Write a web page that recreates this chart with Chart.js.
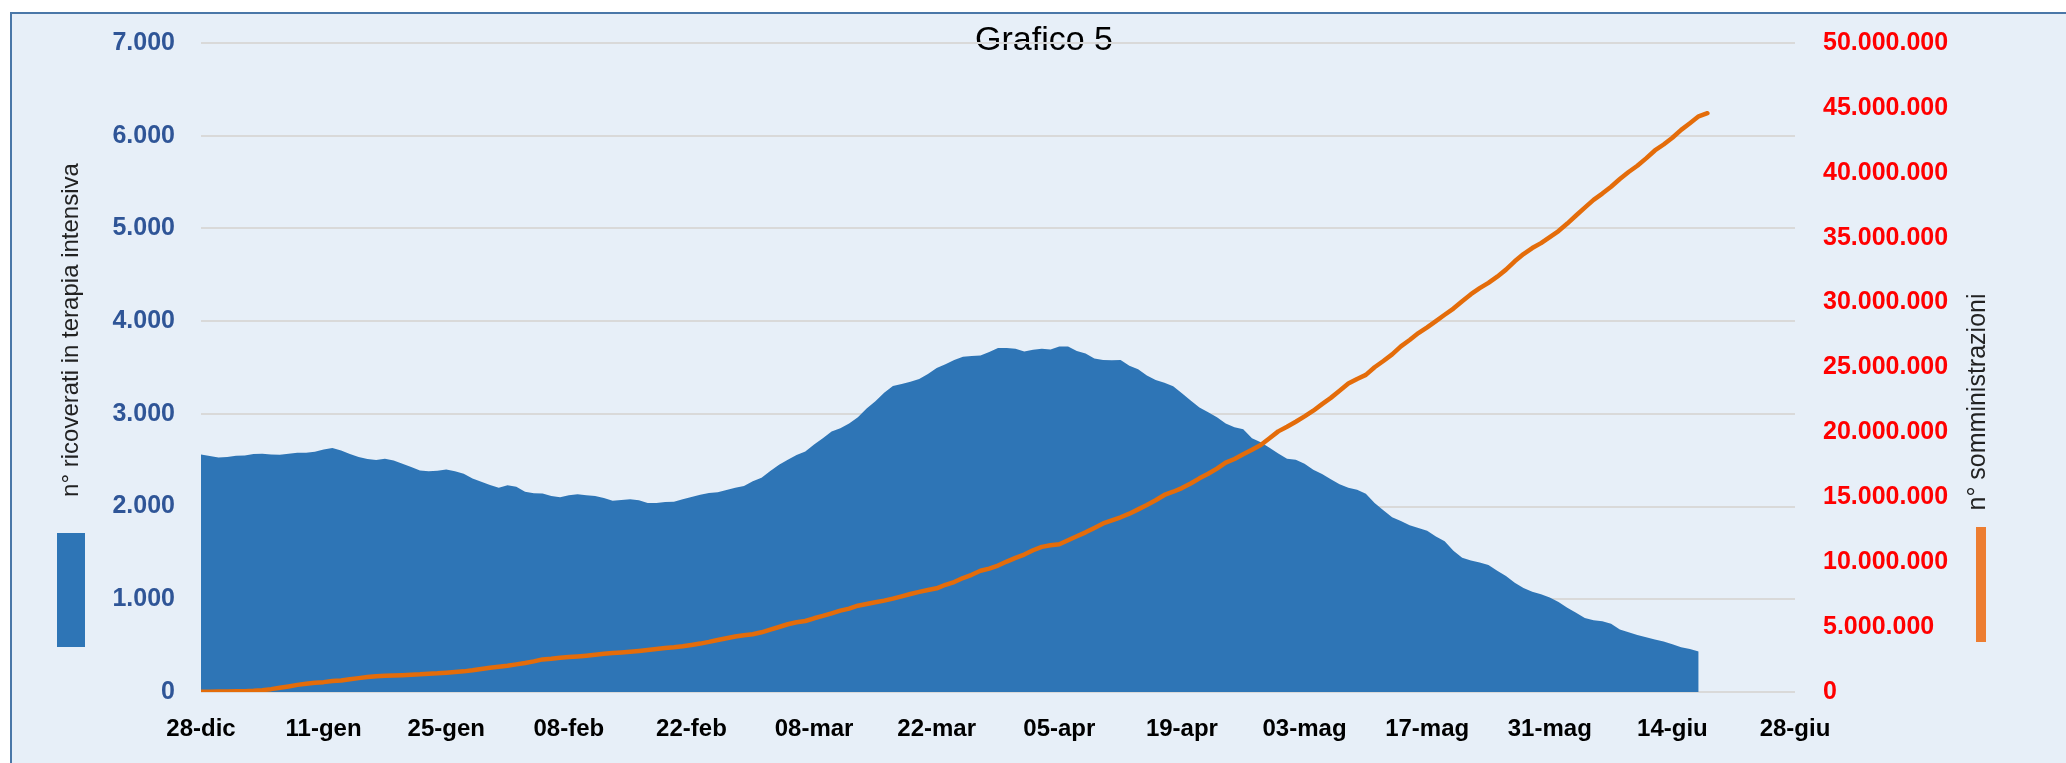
<!DOCTYPE html>
<html>
<head>
<meta charset="utf-8">
<script src="https://cdn.jsdelivr.net/npm/chart.js@4.4.1/dist/chart.umd.min.js"></script>
<style>
  html, body { margin: 0; padding: 0; background: #fff; }
  #wrap { position: relative; width: 2066px; height: 763px; overflow: hidden; }
  #frame {
    position: absolute; left: 10px; top: 12px; right: -10px; bottom: -10px;
    background: #e7eff8; border-left: 2px solid #4a77a8; border-top: 2px solid #4a77a8;
  }
  #chart { position: absolute; left: 0; top: 0; }
</style>
</head>
<body>
<div id="wrap">
  <div id="frame"></div>
  <canvas id="chart" width="2066" height="763"></canvas>
</div>
<script>
// Grafico 5 — terapia intensiva vs somministrazioni (28-dic -> 28-giu, un punto al giorno)

const xTickLabels = ['28-dic', '11-gen', '25-gen', '08-feb', '22-feb', '08-mar', '22-mar',
  '05-apr', '19-apr', '03-mag', '17-mag', '31-mag', '14-giu', '28-giu'];

// n° ricoverati in terapia intensiva, dal 28-dic
const ricoverati = [
  2562, 2545, 2530, 2534, 2548, 2552, 2566, 2570, 2562, 2559,
  2570, 2580, 2580, 2591, 2616, 2631, 2605, 2566, 2534, 2512,
  2501, 2516, 2498, 2462, 2426, 2390, 2380, 2387, 2401, 2380,
  2355, 2304, 2269, 2233, 2204, 2229, 2215, 2161, 2143, 2140,
  2114, 2100, 2122, 2132, 2122, 2114, 2093, 2064, 2071, 2079,
  2068, 2039, 2039, 2050, 2053, 2079, 2104, 2128, 2146, 2154,
  2179, 2204, 2222, 2272, 2311, 2383, 2451, 2505, 2555, 2595,
  2670, 2738, 2810, 2845, 2896, 2964, 3057, 3136, 3229, 3301,
  3322, 3347, 3376, 3430, 3494, 3534, 3580, 3616, 3623, 3630,
  3666, 3709, 3709, 3702, 3673, 3691, 3702, 3695, 3727, 3727,
  3677, 3652, 3598, 3580, 3577, 3580, 3519, 3480, 3415, 3365,
  3336, 3297, 3222, 3143, 3068, 3017, 2964, 2896, 2856, 2835,
  2738, 2695, 2634, 2573, 2516, 2505, 2462, 2397, 2351, 2294,
  2240, 2204, 2182, 2139, 2039, 1960, 1885, 1845, 1799, 1770,
  1738, 1677, 1627, 1523, 1448, 1419, 1397, 1369, 1308, 1251,
  1179, 1122, 1082, 1053, 1018, 971, 910, 856, 799, 774,
  763, 735, 674, 645, 616, 591, 566, 545, 516, 484,
  465, 437
];

// n° somministrazioni cumulate, in milioni, dal 28-dic
const somministrazioniMln = [
  0.01, 0.02, 0.03, 0.04, 0.05, 0.06, 0.09, 0.14, 0.22, 0.32,
  0.43, 0.55, 0.63, 0.71, 0.76, 0.84, 0.89, 0.99, 1.07, 1.15,
  1.22, 1.25, 1.28, 1.30, 1.33, 1.36, 1.41, 1.44, 1.49, 1.54,
  1.59, 1.67, 1.77, 1.87, 1.95, 2.02, 2.13, 2.23, 2.36, 2.51,
  2.56, 2.64, 2.69, 2.74, 2.80, 2.87, 2.95, 3.00, 3.05, 3.10,
  3.16, 3.23, 3.31, 3.39, 3.44, 3.52, 3.62, 3.73, 3.86, 4.01,
  4.14, 4.27, 4.37, 4.45, 4.60, 4.81, 5.01, 5.22, 5.37, 5.47,
  5.68, 5.86, 6.06, 6.27, 6.42, 6.65, 6.78, 6.91, 7.04, 7.19,
  7.37, 7.55, 7.71, 7.86, 7.99, 8.26, 8.47, 8.78, 9.03, 9.34,
  9.51, 9.74, 10.05, 10.33, 10.59, 10.92, 11.18, 11.30, 11.38, 11.69,
  12.00, 12.30, 12.64, 12.99, 13.23, 13.46, 13.74, 14.07, 14.41, 14.77,
  15.18, 15.43, 15.71, 16.06, 16.46, 16.81, 17.21, 17.67, 17.95, 18.31,
  18.67, 19.03, 19.55, 20.08, 20.44, 20.82, 21.23, 21.67, 22.18, 22.66,
  23.20, 23.76, 24.12, 24.43, 25.02, 25.50, 26.01, 26.63, 27.12, 27.65,
  28.09, 28.57, 29.06, 29.54, 30.11, 30.65, 31.11, 31.52, 32.00, 32.54,
  33.18, 33.74, 34.20, 34.58, 35.05, 35.51, 36.09, 36.71, 37.32, 37.91,
  38.40, 38.93, 39.52, 40.06, 40.54, 41.11, 41.72, 42.18, 42.70, 43.31,
  43.82, 44.35, 44.59
];

const colors = {
  area: '#2e75b6',
  line: '#e46c0a',
  legendLine: '#ed7d31',
  leftTicks: '#2f5597',
  rightTicks: '#ff0000',
  grid: '#d9d9d9',
};

const DAYS_STEP = 14;
function dots(n) { return String(Math.round(n)).replace(/\B(?=(\d{3})+(?!\d))/g, '.'); }

// Titles + legend keys drawn straight on the canvas
const decorations = {
  id: 'decorations',
  beforeDraw(chart) {
    const ctx = chart.ctx;
    ctx.save();
    ctx.fillStyle = '#000';
    ctx.font = '34px "Liberation Sans", Arial, sans-serif';
    ctx.textAlign = 'center';
    ctx.textBaseline = 'alphabetic';
    ctx.fillText('Grafico 5', 1044, 50);
    ctx.restore();
  },
  afterDraw(chart) {
    const ctx = chart.ctx;
    ctx.save();
    // legend keys
    ctx.fillStyle = colors.area;
    ctx.fillRect(57, 533, 28, 114);
    ctx.fillStyle = colors.legendLine;
    ctx.fillRect(1976, 527, 10, 115);
    // axis titles
    ctx.fillStyle = '#222';
    ctx.textAlign = 'center';
    ctx.textBaseline = 'middle';
    ctx.font = '24px "Liberation Sans", Arial, sans-serif';
    ctx.translate(71, 330);
    ctx.rotate(-Math.PI / 2);
    ctx.fillText('n° ricoverati in terapia intensiva', 0, 0);
    ctx.setTransform(1, 0, 0, 1, 0, 0);
    ctx.font = '25px "Liberation Sans", Arial, sans-serif';
    ctx.translate(1978, 402);
    ctx.rotate(-Math.PI / 2);
    ctx.fillText('n° somministrazioni', 0, 0);
    ctx.restore();
  },
};

const ctx = document.getElementById('chart');
new Chart(ctx, {
  type: 'line',
  data: {
    datasets: [
      {
        label: 'n° somministrazioni',
        data: somministrazioniMln.map((v, i) => ({ x: i, y: v * 1e6 })),
        yAxisID: 'y2',
        borderColor: colors.line,
        borderWidth: 4.5,
        borderCapStyle: 'round',
        borderJoinStyle: 'round',
        pointRadius: 0,
        tension: 0,
        fill: false,
        order: 1,
      },
      {
        label: 'n° ricoverati in terapia intensiva',
        data: ricoverati.map((v, i) => ({ x: i, y: v })),
        yAxisID: 'y',
        borderWidth: 0,
        borderColor: colors.area,
        backgroundColor: colors.area,
        pointRadius: 0,
        tension: 0,
        fill: 'origin',
        order: 2,
      },
    ],
  },
  options: {
    responsive: false,
    animation: false,
    layout: { padding: { top: 41, left: 0, right: 0, bottom: 0 } },
    plugins: { legend: { display: false }, title: { display: false }, tooltip: { enabled: false } },
    scales: {
      x: {
        type: 'linear',
        min: 0,
        max: (xTickLabels.length - 1) * DAYS_STEP,
        afterFit: s => { s.height = 71; },
        grid: { display: false },
        border: { display: false },
        ticks: {
          stepSize: DAYS_STEP,
          autoSkip: false,
          maxRotation: 0,
          padding: 15,
          color: '#000',
          font: { family: '"Liberation Sans", Arial, sans-serif', size: 24, weight: 'bold' },
          callback: v => xTickLabels[v / DAYS_STEP] ?? '',
        },
      },
      y: {
        position: 'left',
        min: 0,
        max: 7000,
        afterFit: s => { s.width = 201; },
        grid: { color: colors.grid, lineWidth: 2, drawTicks: false },
        border: { display: false },
        ticks: {
          stepSize: 1000,
          padding: 26,
          color: colors.leftTicks,
          font: { family: '"Liberation Sans", Arial, sans-serif', size: 25, weight: 'bold' },
          callback: v => dots(v),
        },
      },
      y2: {
        position: 'right',
        min: 0,
        max: 50000000,
        afterFit: s => { s.width = 271; },
        grid: { display: false, drawTicks: false },
        border: { display: false },
        ticks: {
          stepSize: 5000000,
          padding: 28,
          color: colors.rightTicks,
          font: { family: '"Liberation Sans", Arial, sans-serif', size: 25, weight: 'bold' },
          callback: v => dots(v),
        },
      },
    },
  },
  plugins: [decorations],
});
</script>
</body>
</html>
